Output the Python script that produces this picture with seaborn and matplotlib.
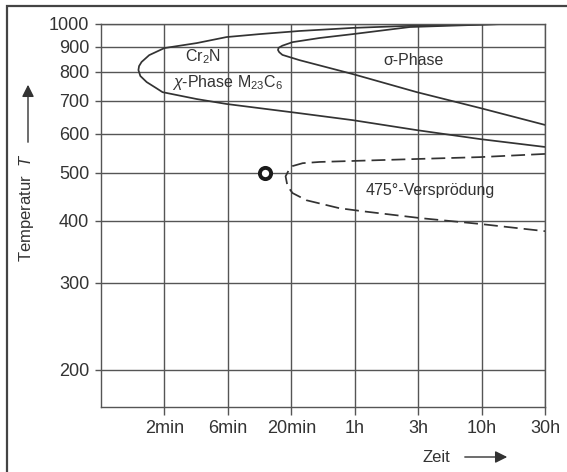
import matplotlib
matplotlib.use("Agg")
import matplotlib.pyplot as plt
import seaborn as sns
import pandas as pd
from matplotlib.patches import Rectangle
from matplotlib.ticker import NullLocator

sns.set_theme(style="white")
plt.rcParams["font.family"] = ["Liberation Sans", "DejaVu Sans"]
plt.rcParams["mathtext.fontset"] = "custom"
plt.rcParams["mathtext.rm"] = "Liberation Sans"
plt.rcParams["mathtext.it"] = "Liberation Sans:italic"

# Zeitachse: gleichabständige Stufen (0 = 2min ... 6 = 30h)
time_labels = ["2min", "6min", "20min", "1h", "3h", "10h", "30h"]
temp_ticks = [200, 300, 400, 500, 600, 700, 800, 900, 1000]

# chi-Phase / M23C6 / Cr2N C-Kurve
chi_x = [5.34, 3.82, 2.97, 2.13, 1.50, 0.98, 0.51, 0.0, -0.24, -0.36, -0.40, -0.41,
         -0.38, -0.28, -0.13, -0.03, 0.51, 0.98, 2.13, 2.97, 3.98, 4.98, 6.0]
chi_T = [1000, 991, 982, 968, 954, 941, 915, 894, 865, 838, 822, 807,
         785, 763, 742, 728, 705, 689, 660, 639, 610, 585, 564]

# sigma-Phase C-Kurve
sigma_x = [5.34, 3.87, 2.97, 2.45, 2.02, 1.86, 1.80, 1.79, 1.81, 1.86, 2.13,
           2.97, 3.98, 4.98, 6.0]
sigma_T = [1000, 986, 954, 937, 919, 904, 895, 886, 877, 866, 845,
           792, 728, 676, 625]

# 475°-Versprödung (gestrichelt)
embr_x = [6.0, 4.98, 3.92, 2.88, 2.45, 2.18, 2.02, 1.96, 1.91,
          1.94, 2.02, 2.24, 2.76, 3.13, 4.03, 4.98, 6.0]
embr_T = [546, 538, 533, 528, 526, 523, 516, 506, 492,
          470, 455, 440, 424, 418, 405, 394, 381]

marker_x = [1.58]
marker_T = [500]

line_col = "#333333"
text_col = "#333333"

fig = plt.figure(figsize=(5.67, 4.72), dpi=100)
ax = fig.add_axes([101 / 567, 1 - 407 / 472, 444 / 567, 383 / 472])

df_chi = pd.DataFrame({"t": chi_x, "T": chi_T})
df_sigma = pd.DataFrame({"t": sigma_x, "T": sigma_T})
df_embr = pd.DataFrame({"t": embr_x, "T": embr_T})

sns.lineplot(data=df_chi, x="t", y="T", sort=False, estimator=None,
             color=line_col, linewidth=1.25, ax=ax)
sns.lineplot(data=df_sigma, x="t", y="T", sort=False, estimator=None,
             color=line_col, linewidth=1.25, ax=ax)
sns.lineplot(data=df_embr, x="t", y="T", sort=False, estimator=None,
             color=line_col, linewidth=1.25, linestyle=(0, (8, 3.5)), ax=ax)
sns.scatterplot(x=marker_x, y=marker_T, marker="o", s=65,
                facecolor="white", edgecolor="#1a1a1a", linewidth=2.8, ax=ax, zorder=5)

ax.set_yscale("log")
ax.set_ylim(168, 1000)
ax.set_xlim(-1, 6)
ax.set_yticks(temp_ticks)
ax.set_yticklabels([str(v) for v in temp_ticks])
ax.yaxis.set_minor_locator(NullLocator())
ax.set_xticks(range(len(time_labels)))
ax.set_xticklabels(time_labels)

ax.grid(True, color="#555555", linewidth=1.0)
ax.set_axisbelow(True)
for sp in ax.spines.values():
    sp.set_color("#555555")
    sp.set_linewidth(1.0)
ax.tick_params(axis="y", which="major", left=True, length=4.5, width=1.0,
               color="#555555", labelsize=13, labelcolor=text_col, pad=4)
ax.tick_params(axis="x", which="major", bottom=True, length=5.5, width=1.0,
               color="#555555", labelsize=13, labelcolor=text_col, pad=4)
ax.set_xlabel("")
ax.set_ylabel("")

# Beschriftungen im Diagramm
ax.text(0.6, 857, "Cr$_2$N", ha="center", va="center", fontsize=11.5, color=text_col)
ax.text(1.0, 760, "$\\chi$-Phase M$_{23}$C$_6$", ha="center", va="center",
        fontsize=11.5, color=text_col)
ax.text(3.93, 845, "σ-Phase", ha="center", va="center", fontsize=11.5, color=text_col)
ax.text(4.19, 460, "475°-Versprödung", ha="center", va="center", fontsize=11.5, color=text_col)

# Achsentitel mit Pfeilen
fig.text(26 / 567, 1 - 208 / 472, "Temperatur  $T$", rotation=90, ha="center",
         va="center", fontsize=12, color=text_col)
ax.annotate("", xy=(28 / 567, 1 - 82 / 472), xytext=(28 / 567, 1 - 145 / 472),
            xycoords="figure fraction", textcoords="figure fraction",
            arrowprops=dict(arrowstyle="-|>", color="#333333", lw=1.0,
                            mutation_scale=18), annotation_clip=False)
fig.text(436 / 567, 1 - 457 / 472, "Zeit", ha="center", va="center",
         fontsize=12, color=text_col)
ax.annotate("", xy=(510 / 567, 1 - 457 / 472), xytext=(462 / 567, 1 - 457 / 472),
            xycoords="figure fraction", textcoords="figure fraction",
            arrowprops=dict(arrowstyle="-|>", color="#333333", lw=1.0,
                            mutation_scale=18), annotation_clip=False)

# Rahmen um die Abbildung
fig.add_artist(Rectangle((7 / 567, -0.05), 1.2, 1 - 6 / 472 + 0.05,
                         transform=fig.transFigure, fill=False,
                         edgecolor="#444444", linewidth=1.6, clip_on=False))

fig.savefig("out.png", dpi=100)
